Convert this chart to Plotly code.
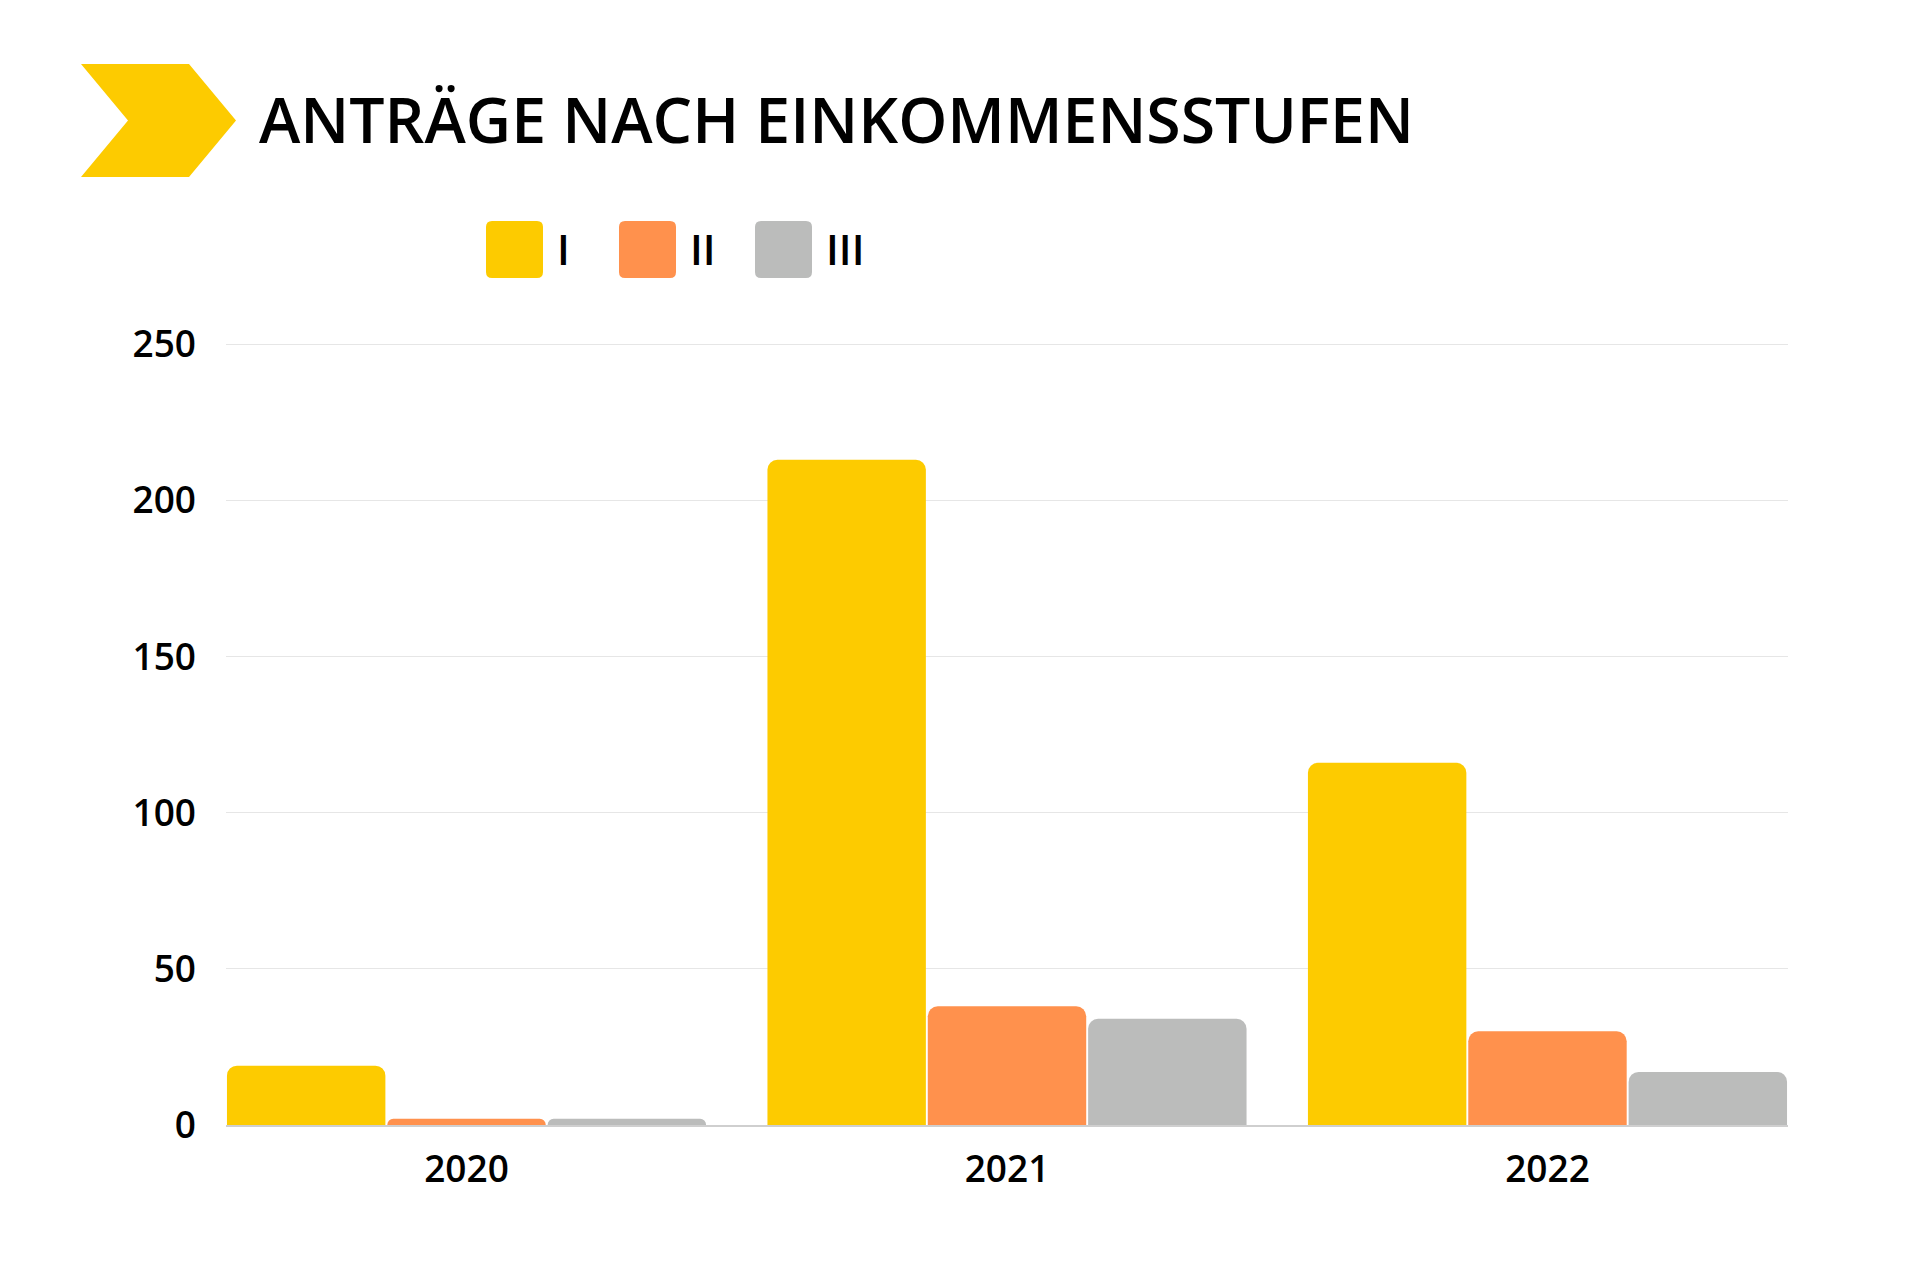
import plotly.graph_objects as go

# ---- data ----
years = ["2020", "2021", "2022"]
series_names = ["I", "II", "III"]
values_I = [19, 213, 116]
values_II = [2, 38, 30]
values_III = [2, 34, 17]
y_ticks = [0, 50, 100, 150, 200, 250]
title_text = "ANTRÄGE NACH EINKOMMENSSTUFEN"

colors = ["#FDCB00", "#FF914D", "#BBBCBB"]
FONT = "Open Sans"

# ---- geometry (pixels) ----
WIDTH, HEIGHT = 1920, 1280
L, R, T, B = 226, 132, 338, 155
PW = WIDTH - L - R
PH = HEIGHT - T - B


def px(x):
    return (x - L) / PW


def py(y):
    return (HEIGHT - B - y) / PH


def rounded_rect(x0, y0, x1, y1, r):
    pts = []
    pts.append(f"M {px(x0 + r)},{py(y0)}")
    pts.append(f"L {px(x1 - r)},{py(y0)}")
    pts.append(f"Q {px(x1)},{py(y0)} {px(x1)},{py(y0 + r)}")
    pts.append(f"L {px(x1)},{py(y1 - r)}")
    pts.append(f"Q {px(x1)},{py(y1)} {px(x1 - r)},{py(y1)}")
    pts.append(f"L {px(x0 + r)},{py(y1)}")
    pts.append(f"Q {px(x0)},{py(y1)} {px(x0)},{py(y1 - r)}")
    pts.append(f"L {px(x0)},{py(y0 + r)}")
    pts.append(f"Q {px(x0)},{py(y0)} {px(x0 + r)},{py(y0)}")
    pts.append("Z")
    return " ".join(pts)


fig = go.Figure()
for name, vals, col in zip(series_names, [values_I, values_II, values_III], colors):
    fig.add_trace(go.Bar(x=years, y=vals, name=name, marker=dict(color=col, line=dict(width=0)),
                         showlegend=False))

shapes = []
# chevron
chev = [(81, 64), (189, 64), (236, 120.5), (189, 177), (81, 177), (128, 120.5)]
path = "M " + " L ".join(f"{px(x)},{py(y)}" for x, y in chev) + " Z"
shapes.append(dict(type="path", xref="paper", yref="paper", path=path,
                   fillcolor=colors[0], line=dict(width=0), layer="above"))

annotations = [dict(text=title_text, xref="paper", yref="paper", x=px(257), y=py(119),
                    xanchor="left", yanchor="middle", showarrow=False,
                    font=dict(family=FONT, size=62.5, color="#000000", weight=600))]

# custom legend
leg_x = [486, 619, 755]
for name, col, x0 in zip(series_names, colors, leg_x):
    shapes.append(dict(type="path", xref="paper", yref="paper",
                       path=rounded_rect(x0, 221, x0 + 57, 278, 6),
                       fillcolor=col, line=dict(width=0), layer="above"))
    annotations.append(dict(text=name, xref="paper", yref="paper", x=px(x0 + 69), y=py(249),
                            xanchor="left", yanchor="middle", showarrow=False,
                            font=dict(family=FONT, size=42, color="#000000", weight=600)))

fig.update_layout(
    width=WIDTH, height=HEIGHT,
    margin=dict(l=L, r=R, t=T, b=B, pad=0),
    paper_bgcolor="white", plot_bgcolor="white",
    barmode="group", bargap=0.11, bargroupgap=0.012, barcornerradius=10,
    font=dict(family=FONT, size=37, color="#000000", weight=600),
    shapes=shapes, annotations=annotations,
    showlegend=False,
)
fig.update_xaxes(range=[-0.445, 2.445], showgrid=False, showline=True, linecolor="#cfcfcf",
                 linewidth=1.5, ticks="", ticklabelstandoff=11,
                 tickfont=dict(family=FONT, size=37, color="#000000", weight=600))
fig.update_yaxes(range=[0, 252], tickvals=y_ticks, showgrid=True, gridcolor="#e6e6e6",
                 gridwidth=1, zeroline=False, showline=False, ticks="", ticklabelstandoff=29,
                 tickfont=dict(family=FONT, size=37, color="#000000", weight=600))

fig.write_html("out.html", config={"displayModeBar": False},
               post_script="document.body.style.margin='0';")
